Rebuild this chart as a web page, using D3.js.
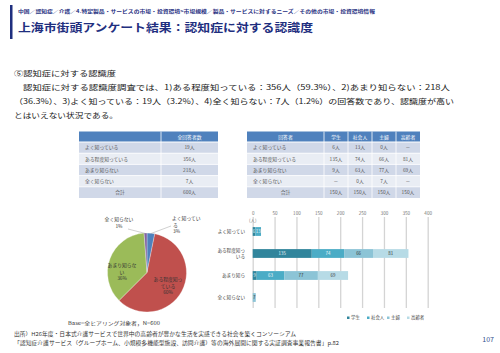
<!DOCTYPE html>
<html>
<head>
<meta charset="utf-8">
<script src="https://cdn.jsdelivr.net/npm/d3@7"></script>
<style>
  body { margin: 0; background: #fff; }
  svg { display: block; font-family: "Noto Sans CJK JP", "Noto Sans", sans-serif; }
</style>
</head>
<body>
<div id="slide"></div>
<script>
// survey answers
const categories = ["よく知っている", "ある程度知っている", "あまり知らない", "全く知らない"];
const totals = [19, 356, 218, 7];
const piePct = ["3%", "60%", "36%", "1%"];
const groups = ["学生", "社会人", "主婦", "高齢者"];
const byGroup = [
  [6, 13, 0, 0],
  [135, 74, 66, 81],
  [9, 63, 77, 69],
  [0, 0, 7, 0]
];
const groupTotals = [150, 150, 150, 150];
const xTicks = [0, 50, 100, 150, 200, 250, 300, 350, 400];

const W = 500, H = 353;
const navy = "#1f2f7f";

const svg = d3.select("#slide").append("svg")
    .attr("width", W)
    .attr("height", H);

// header
svg.append("rect").attr("x", 10).attr("y", 5).attr("width", 2.5).attr("height", 34).attr("fill", navy);
svg.append("text").attr("x", 18).attr("y", 13)
    .attr("font-size", 4.6).attr("font-weight", "bold").attr("fill", navy)
    .attr("textLength", 357).attr("lengthAdjust", "spacingAndGlyphs")
    .text("中国／認知症／介護／4.特定製品・サービスの市場・投資環境>市場規模／製品・サービスに対するニーズ／その他の市場・投資環境情報");
svg.append("text").attr("x", 18).attr("y", 32)
    .attr("font-size", 11).attr("font-weight", "bold").attr("fill", navy)
    .attr("textLength", 295).attr("lengthAdjust", "spacingAndGlyphs")
    .text("上海市街頭アンケート結果：認知症に対する認識度");

// body text
const body = [
  {x: 14, y: 76, w: 102, t: "⑤認知症に対する認識度"},
  {x: 23, y: 90, w: 427, t: "認知症に対する認識度調査では、1)ある程度知っている：356人（59.3%）、2)あまり知らない：218人"},
  {x: 14, y: 104, w: 440, t: "（36.3%）、3)よく知っている：19人（3.2%）、4)全く知らない：7人（1.2%）の回答数であり、認識度が高い"},
  {x: 14, y: 118, w: 104, t: "とはいえない状況である。"}
];
svg.selectAll("text.body").data(body).enter().append("text")
    .attr("class", "body")
    .attr("x", d => d.x).attr("y", d => d.y)
    .attr("font-size", 7.4).attr("fill", "#222")
    .attr("textLength", d => d.w).attr("lengthAdjust", "spacingAndGlyphs")
    .text(d => d.t);

// tables
function drawTable(x0, colX, header, rows) {
  const top = 131.5, hh = 10.5, rh = 11.2;
  const g = svg.append("g");
  const right = colX[colX.length - 1];
  g.append("rect").attr("x", x0).attr("y", top).attr("width", right - x0).attr("height", hh).attr("fill", "#4f81bd");
  rows.forEach((r, i) => {
    g.append("rect").attr("x", x0).attr("y", top + hh + i * rh)
        .attr("width", right - x0).attr("height", rh)
        .attr("fill", i % 2 === 0 ? "#d0d8e8" : "#e9edf4");
  });
  // white cell borders
  colX.slice(1, -1).forEach(cx => {
    g.append("line").attr("x1", cx).attr("x2", cx).attr("y1", top).attr("y2", top + hh + rows.length * rh)
        .attr("stroke", "#fff").attr("stroke-width", 0.8);
  });
  rows.forEach((r, i) => {
    g.append("line").attr("x1", x0).attr("x2", right)
        .attr("y1", top + hh + i * rh).attr("y2", top + hh + i * rh)
        .attr("stroke", "#fff").attr("stroke-width", i === 0 ? 1.2 : 0.8);
  });
  header.forEach((h, j) => {
    g.append("text").attr("x", (colX[j] + colX[j + 1]) / 2).attr("y", top + hh / 2 + 1.8)
        .attr("text-anchor", "middle").attr("font-size", 4.8).attr("fill", "#fff").text(h);
  });
  rows.forEach((r, i) => {
    r.forEach((c, j) => {
      const last = i === rows.length - 1;
      const left = j === 0 && !last;
      g.append("text")
          .attr("x", left ? x0 + 6 : (colX[j] + colX[j + 1]) / 2)
          .attr("y", top + hh + i * rh + rh / 2 + 1.8)
          .attr("text-anchor", left ? "start" : "middle")
          .attr("font-size", 4.8).attr("fill", "#555").text(c);
    });
  });
}

const leftRows = categories.map((c, i) => [c, totals[i] + "人"]);
leftRows.push(["合計", d3.sum(totals) + "人"]);
drawTable(79, [79, 161, 218], ["", "全回答者数"], leftRows);

const cell = v => v === 0 ? "－" : v + "人";
const rightRows = categories.map((c, i) => [c].concat(byGroup[i].map(cell)));
rightRows[0][3] = "0人";
rightRows[3][2] = "0人";
rightRows.push(["合計"].concat(groupTotals.map(v => v + "人")));
drawTable(247, [247, 324, 348, 372, 396, 420], ["回答者"].concat(groups), rightRows);

// pie
const pieColors = ["#4f81bd", "#c0504d", "#9bbb59", "#8064a2"];
const cx = 147, cy = 272.5, r = 39.5;
const pie = d3.pie().sort(null).value(d => d);
const arc = d3.arc().innerRadius(0).outerRadius(r);
const pg = svg.append("g").attr("transform", `translate(${cx},${cy})`);
pg.selectAll("path").data(pie(totals)).enter().append("path")
    .attr("d", arc)
    .attr("fill", (d, i) => pieColors[i])
    .attr("stroke", "#fff").attr("stroke-width", 0.3);

// pie labels
const pieLbl = [
  {x: 172, y: 220, lines: ["よく知ってい", "る", piePct[0]], anchor: "start", line: [[171, 226], [151, 233.5]]},
  {x: 168, y: 281, lines: ["ある程度知っ", "ている", piePct[1]], anchor: "middle"},
  {x: 122, y: 267, lines: ["あまり知らな", "い", piePct[2]], anchor: "middle"},
  {x: 119, y: 221, lines: ["全く知らない", piePct[3]], anchor: "middle", line: [[128, 229], [145.5, 233.5]]}
];
pieLbl.forEach(l => {
  const t = svg.append("text").attr("font-size", 4.8).attr("fill", "#333").attr("text-anchor", l.anchor);
  l.lines.forEach((s, k) => {
    t.append("tspan").attr("x", l.anchor === "start" && k > 0 ? l.x + 1 : l.x).attr("y", l.y + k * 6.5).text(s);
  });
  if (l.line) {
    svg.append("path").attr("d", d3.line()(l.line)).attr("stroke", "#888").attr("stroke-width", 0.4).attr("fill", "none");
  }
});

svg.append("text").attr("x", 68).attr("y", 325).attr("font-size", 4.8).attr("fill", "#333")
    .attr("textLength", 92).attr("lengthAdjust", "spacingAndGlyphs")
    .text("Base=全ヒアリング対象者，N=600");

// stacked bar chart
const x = d3.scaleLinear().domain([0, 400]).range([252.7, 427.7]);
const y = d3.scaleBand().domain(categories).range([220.5, 308.5]).paddingInner(0.6).paddingOuter(0.3);
const barColors = ["#31859c", "#4bacc6", "#8cc4d6", "#b7dbe6"];
const labelColors = ["#e8f4f8", "#f2f9fb", "#333", "#333"];

const ax = svg.append("g").attr("transform", "translate(0,217)")
    .call(d3.axisTop(x).tickValues(xTicks).tickSize(-91).tickPadding(2));
ax.select(".domain").remove();
ax.selectAll(".tick line").attr("stroke", "#d4d4d4").attr("stroke-width", 1.3);
ax.selectAll(".tick text").attr("font-size", 4.6).attr("fill", "#777")
    .attr("font-family", "'Noto Sans CJK JP', sans-serif");
svg.append("text").attr("x", 252.7).attr("y", 222).attr("text-anchor", "middle")
    .attr("font-size", 4.4).attr("fill", "#777").text("(人)");

const rowsObj = categories.map((c, i) => {
  const o = {cat: c};
  groups.forEach((gname, j) => { o[gname] = byGroup[i][j]; });
  return o;
});
const series = d3.stack().keys(groups)(rowsObj);

const sg = svg.selectAll("g.series").data(series).enter().append("g")
    .attr("class", "series");
sg.selectAll("rect").data(d => d.filter(p => p[1] > p[0])).enter().append("rect")
    .attr("fill", function() { return barColors[series.indexOf(d3.select(this.parentNode).datum())]; })
    .attr("x", p => x(p[0]))
    .attr("y", p => y(p.data.cat))
    .attr("width", p => x(p[1]) - x(p[0]))
    .attr("height", y.bandwidth());
sg.selectAll("text").data(d => d.filter(p => p[1] > p[0])).enter().append("text")
    .attr("fill", function() { return labelColors[series.indexOf(d3.select(this.parentNode).datum())]; })
    .attr("x", p => (x(p[0]) + x(p[1])) / 2)
    .attr("y", p => y(p.data.cat) + y.bandwidth() / 2 + 1.6)
    .attr("text-anchor", "middle").attr("font-size", 4.4)
    .text(p => p[1] - p[0]);

// category labels (left of bars)
const catLines = [["よく知ってい"], ["ある程度知っ", "いる"], ["あまり知ら"], ["全く知らない"]];
categories.forEach((c, i) => {
  const t = svg.append("text").attr("text-anchor", "end").attr("font-size", 4.6).attr("fill", "#444");
  const n = catLines[i].length;
  catLines[i].forEach((s, k) => {
    t.append("tspan").attr("x", 245).attr("y", y(c) + y.bandwidth() / 2 + 1.6 + (k - (n - 1) / 2) * 6).text(s);
  });
});

// legend
const lg = svg.append("g").selectAll("g").data(groups).enter().append("g")
    .attr("transform", (d, i) => `translate(${347 + i * 20},319)`);
lg.append("rect").attr("x", 0).attr("y", -2.5).attr("width", 2.5).attr("height", 2.5)
    .attr("fill", (d, i) => barColors[i]);
lg.append("text").attr("x", 4).attr("y", 0).attr("font-size", 4.4).attr("fill", "#444").text(d => d);

// source + page number
svg.append("text").attr("x", 14).attr("y", 336).attr("font-size", 5.3).attr("fill", "#333")
    .attr("textLength", 282).attr("lengthAdjust", "spacingAndGlyphs")
    .text("出所）H26年度・日本式介護サービスで世界中の高齢者が豊かな生活を実感できる社会を築くコンソーシアム");
svg.append("text").attr("x", 14).attr("y", 345).attr("font-size", 5.3).attr("fill", "#333")
    .attr("textLength", 325).attr("lengthAdjust", "spacingAndGlyphs")
    .text("「認知症介護サービス（グループホーム、小規模多機能型施設、訪問介護）等の海外展開に関する実証調査事業報告書」p.82");
svg.append("text").attr("x", 494).attr("y", 342).attr("text-anchor", "end")
    .attr("font-size", 7).attr("fill", "#2e4f8f").text("107");
</script>
</body>
</html>
